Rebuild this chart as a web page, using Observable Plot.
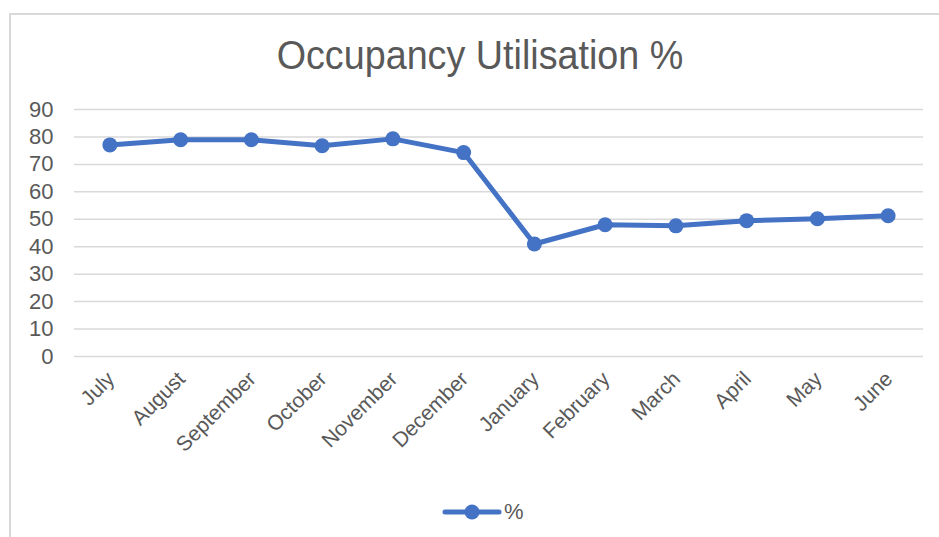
<!DOCTYPE html>
<html>
<head>
<meta charset="utf-8">
<script src="https://cdn.jsdelivr.net/npm/d3@7"></script>
<script src="https://cdn.jsdelivr.net/npm/@observablehq/plot@0.6"></script>
<style>
  html, body { margin: 0; padding: 0; background: #fff; }
  body { width: 939px; height: 537px; position: relative; overflow: hidden; font-family: "Liberation Sans", Arial, sans-serif; }
  #frame { position: absolute; left: 9px; top: 13px; width: 940px; height: 540px; border-left: 2px solid #d9d9d9; border-top: 2px solid #d9d9d9; box-sizing: border-box; }
  #chart { position: absolute; left: 0; top: 0; }
  #title { position: absolute; left: 0; width: 960px; top: 35px; text-align: center; font-size: 41px; line-height: 41px; color: #595959; transform: scaleX(0.92); transform-origin: 480px 0; }
  #legend { position: absolute; left: 442px; top: 499px; display: flex; align-items: center; font-size: 22px; color: #595959; }
</style>
</head>
<body>
<div id="frame"></div>
<div id="chart"></div>
<div id="title">Occupancy Utilisation %</div>
<div id="legend"></div>
<script>
const months = ["July","August","September","October","November","December","January","February","March","April","May","June"];
const values = [77.1, 79.0, 79.0, 76.8, 79.3, 74.3, 41.0, 48.0, 47.6, 49.5, 50.2, 51.3];
const yTicks = [0, 10, 20, 30, 40, 50, 60, 70, 80, 90];
const seriesName = "%";
const color = "#4472C4";

const data = months.map((m, i) => ({month: m, value: values[i]}));

const chart = Plot.plot({
  width: 939,
  height: 537,
  marginTop: 109,
  marginBottom: 181,
  marginLeft: 74,
  marginRight: 16,
  style: {fontFamily: "'Liberation Sans', Arial, sans-serif", color: "#595959", background: "transparent"},
  x: {type: "point", domain: months, padding: 0.5, round: false, label: null},
  y: {domain: [0, 90], ticks: yTicks, label: null},
  marks: [
    Plot.ruleY(yTicks, {stroke: "#d9d9d9", strokeWidth: 1.5}),
    Plot.axisY({ticks: yTicks, tickSize: 0, tickPadding: 21, fontSize: 22, fill: "#595959", label: null}),
    Plot.axisX({tickSize: 0, tickRotate: -45, tickPadding: 19, dx: 1, fontSize: 21, fill: "#595959", label: null}),
    Plot.line(data, {x: "month", y: "value", stroke: color, strokeWidth: 5, strokeLinejoin: "round", strokeLinecap: "round"}),
    Plot.dot(data, {x: "month", y: "value", fill: color, r: 7.5})
  ]
});
document.getElementById("chart").appendChild(chart);

const legend = document.getElementById("legend");
const lsvg = d3.create("svg").attr("width", 60).attr("height", 20);
lsvg.append("line").attr("x1", 3).attr("x2", 57).attr("y1", 10).attr("y2", 10)
  .attr("stroke", color).attr("stroke-width", 5).attr("stroke-linecap", "round");
lsvg.append("circle").attr("cx", 30).attr("cy", 10).attr("r", 7.5).attr("fill", color);
legend.appendChild(lsvg.node());
const lt = document.createElement("span");
lt.textContent = seriesName;
lt.style.marginLeft = "2px";
legend.appendChild(lt);
</script>
</body>
</html>
